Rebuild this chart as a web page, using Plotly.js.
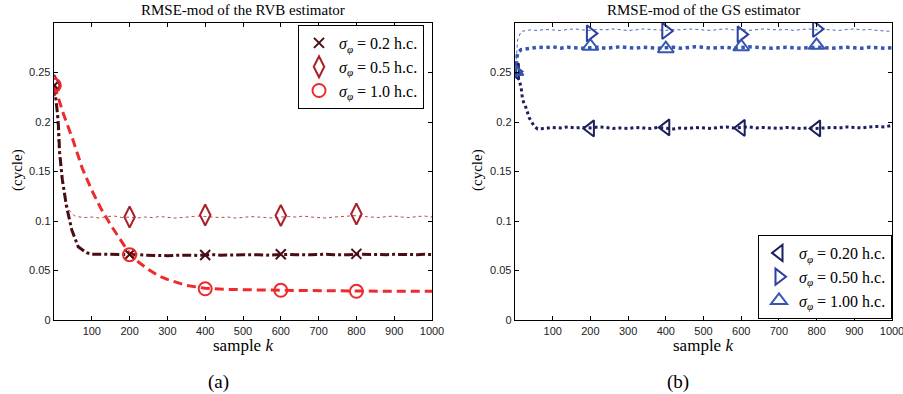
<!DOCTYPE html>
<html>
<head>
<meta charset="utf-8">
<script src="https://cdn.plot.ly/plotly-3.0.1.min.js"></script>
<style>html,body{margin:0;padding:0;background:#fff;}#chart{width:903px;height:394px;}</style>
</head>
<body>
<div id="chart"></div>
<script>
// ---------- Panel (a): RVB estimator ----------
const rvbK_02 = [1,5,11,15,22,33,47,64,86,100,120,140,160,180,200,220,240,260,280,300,320,340,360,380,400,420,440,460,480,500,520,540,560,580,600,620,640,660,680,700,720,740,760,780,800,820,840,860,880,900,920,940,960,980,1000];
const rvbV_02 = [0.237,0.222,0.202,0.169,0.142,0.115,0.091,0.074,0.068,0.0665,0.0665,0.0660,0.0662,0.0658,0.0662,0.0660,0.0655,0.0652,0.0655,0.0650,0.0653,0.0657,0.0655,0.0652,0.0656,0.0660,0.0655,0.0652,0.0656,0.0660,0.0662,0.0658,0.0655,0.0660,0.0665,0.0663,0.0660,0.0656,0.0658,0.0662,0.0665,0.0660,0.0657,0.0660,0.0664,0.0662,0.0658,0.0656,0.0660,0.0663,0.0661,0.0658,0.0660,0.0663,0.0662];

const rvbK_05 = [1,4,7,11,15,20,29,42,55,60,80,100,120,140,160,180,200,220,240,260,280,300,320,340,360,380,400,420,440,460,480,500,520,540,560,580,600,620,640,660,680,700,720,740,760,780,800,820,840,860,880,900,920,940,960,980,1000];
const rvbV_05 = [0.237,0.225,0.209,0.175,0.158,0.142,0.121,0.110,0.105,0.1045,0.1035,0.1040,0.1030,0.1045,0.1050,0.1035,0.1040,0.1030,0.1040,0.1035,0.1045,0.1040,0.1030,0.1035,0.1045,0.1050,0.1045,0.1040,0.1035,0.1040,0.1030,0.1035,0.1045,0.1040,0.1035,0.1030,0.1040,0.1045,0.1040,0.1050,0.1040,0.1035,0.1030,0.1040,0.1045,0.1050,0.1055,0.1045,0.1040,0.1035,0.1045,0.1050,0.1040,0.1035,0.1045,0.1050,0.1040];

const rvbK_10 = [1,25,50,75,100,125,150,175,200,225,250,275,300,350,400,450,500,550,600,650,700,750,800,850,900,950,1000];
const rvbV_10 = [0.237,0.208,0.182,0.153,0.131,0.112,0.096,0.081,0.067,0.058,0.051,0.045,0.041,0.035,0.032,0.031,0.0305,0.0302,0.030,0.0298,0.0295,0.0292,0.029,0.029,0.029,0.029,0.029];

const markK = [1,200,400,600,800];
const rvbM_02 = [0.237,0.0662,0.0656,0.0665,0.0668];
const rvbM_05 = [0.237,0.104,0.106,0.1055,0.107];
const rvbM_10 = [0.237,0.066,0.0315,0.030,0.029];

// ---------- Panel (b): GS estimator ----------
const steadyK = [60,80,100,120,140,160,180,200,220,240,260,280,300,320,340,360,380,400,420,440,460,480,500,520,540,560,580,600,620,640,660,680,700,720,740,760,780,800,820,840,860,880,900,920,940,960,980,1000];

const gsK_020 = [1,8,16,20,29,38,51].concat(steadyK);
const gsV_020 = [0.251,0.245,0.236,0.2227,0.2146,0.204,0.1957,
  0.1930,0.1935,0.1945,0.1940,0.1950,0.1940,0.1945,0.1940,0.1950,0.1945,0.1935,0.1940,0.1935,0.1945,0.1940,0.1935,0.1945,0.1940,0.1930,0.1940,0.1935,0.1945,0.1940,0.1935,0.1945,0.1950,0.1940,0.1945,0.1950,0.1940,0.1945,0.1940,0.1935,0.1945,0.1940,0.1935,0.1940,0.1935,0.1940,0.1945,0.1940,0.1950,0.1945,0.1940,0.1950,0.1955,0.1950,0.1965];

const gsK_050 = [1,7,16,40].concat(steadyK);
const gsV_050 = [0.251,0.283,0.2915,0.2930,
  0.2925,0.2935,0.2930,0.2925,0.2935,0.2940,0.2930,0.2925,0.2935,0.2930,0.2940,0.2935,0.2925,0.2930,0.2940,0.2935,0.2930,0.2925,0.2935,0.2930,0.2940,0.2935,0.2930,0.2925,0.2935,0.2940,0.2930,0.2935,0.2925,0.2930,0.2940,0.2935,0.2930,0.2935,0.2925,0.2935,0.2940,0.2930,0.2935,0.2930,0.2925,0.2935,0.2940,0.2930,0.2935,0.2925,0.2920,0.2915];

const gsK_100 = [1,7,16,40].concat(steadyK);
const gsV_100 = [0.251,0.270,0.273,0.2745,
  0.2755,0.2750,0.2760,0.2745,0.2755,0.2750,0.2745,0.2750,0.2755,0.2745,0.2750,0.2760,0.2750,0.2745,0.2755,0.2750,0.2745,0.2750,0.2755,0.2745,0.2750,0.2760,0.2755,0.2745,0.2750,0.2755,0.2745,0.2750,0.2760,0.2755,0.2750,0.2745,0.2750,0.2755,0.2750,0.2745,0.2750,0.2755,0.2750,0.2745,0.2750,0.2755,0.2750,0.2745,0.2755,0.2750,0.2745,0.2750];

const gsM_020 = [0.251,0.1935,0.1945,0.1940,0.1935];
const gsM_050 = [0.251,0.2895,0.2920,0.2885,0.2940];
const gsM_100 = [0.251,0.2765,0.2740,0.2760,0.2775];

const xTickVals = [100,200,300,400,500,600,700,800,900,1000];
const yTickVals = [0,0.05,0.1,0.15,0.2,0.25];
const yTickText = ['0','0.05','0.1','0.15','0.2','0.25'];

const titleA = 'RMSE-mod of the RVB estimator';
const titleB = 'RMSE-mod of the GS estimator';
const labA = ['0.2','0.5','1.0'];
const labB = ['0.20','0.50','1.00'];

function sig(v){ return '<i>σ</i><sub><i>φ</i></sub> = ' + v + ' h.c.'; }

const SERIF = '"Liberation Serif", "DejaVu Serif", serif';
const SANS = '"Liberation Sans", Arial, sans-serif';

function lineTrace(x, y, xa, ya, color, width, dash){
  return {x:x, y:y, xaxis:xa, yaxis:ya, mode:'lines', showlegend:false, hoverinfo:'skip',
          line:{color:color, width:width, dash:dash}};
}
function markTrace(x, y, xa, ya, color, symbol, size, name, legend){
  return {x:x, y:y, xaxis:xa, yaxis:ya, mode:'markers', name:name, legend:legend,
          marker:{symbol:symbol, size:size, color:color, line:{color:color, width:2}}};
}

const cA02 = '#4a0d13', cA05 = '#a8202a', cA05l = '#c0484c', cA10 = '#ee2a2c';
const cB020 = '#1b1f5e', cB050 = '#2c3f9f', cB050l = '#4a66bf', cB100 = '#3556b3';

const data = [
  lineTrace(rvbK_05, rvbV_05, 'x', 'y', cA05l, 1, 'dot'),
  lineTrace(rvbK_02, rvbV_02, 'x', 'y', cA02, 3, 'dashdot'),
  lineTrace(rvbK_10, rvbV_10, 'x', 'y', cA10, 3, '9px,5px'),
  markTrace(markK, rvbM_02, 'x', 'y', cA02, 'x-thin-open', 10, sig(labA[0]), 'legend'),
  markTrace(markK, rvbM_05, 'x', 'y', cA05, 'diamond-tall-open', 15, sig(labA[1]), 'legend'),
  markTrace(markK, rvbM_10, 'x', 'y', cA10, 'circle-open', 13, sig(labA[2]), 'legend'),

  lineTrace(gsK_050, gsV_050, 'x2', 'y2', cB050l, 1, 'dot'),
  lineTrace(gsK_100, gsV_100, 'x2', 'y2', cB100, 3.5, 'dot'),
  lineTrace(gsK_020, gsV_020, 'x2', 'y2', cB020, 3, 'dot'),
  markTrace(markK, gsM_020, 'x2', 'y2', cB020, 'triangle-left-open', 14, sig(labB[0]), 'legend2'),
  markTrace(markK, gsM_050, 'x2', 'y2', cB050, 'triangle-right-open', 14, sig(labB[1]), 'legend2'),
  markTrace(markK, gsM_100, 'x2', 'y2', cB100, 'triangle-up-open', 14, sig(labB[2]), 'legend2')
];

function xAxis(domain, anchor){
  return {domain:domain, anchor:anchor, range:[0,1000], tickvals:xTickVals, ticks:'inside', ticklen:4,
          tickcolor:'#000', showline:true, linecolor:'#000', linewidth:1.3, mirror:'ticks',
          ticklabeloverflow:'allow',
          showgrid:false, zeroline:false, tickfont:{family:SANS, size:11, color:'#222'}};
}
function yAxis(domain, anchor){
  return {domain:domain, anchor:anchor, range:[0,0.3], tickvals:yTickVals, ticktext:yTickText, ticks:'inside', ticklen:4,
          tickcolor:'#000', showline:true, linecolor:'#000', linewidth:1.3, mirror:'ticks',
          showgrid:false, zeroline:false, tickfont:{family:SANS, size:11, color:'#222'}};
}

const yDom = [(394-320)/394, (394-23)/394];
const legendCommon = {bgcolor:'#fff', bordercolor:'#000', borderwidth:1, font:{family:SERIF, size:16, color:'#000'},
  tracegroupgap:0, itemwidth:30};

function ann(text, x, y, size, angle){
  return {text:text, x:x, y:y, xref:'paper', yref:'paper', showarrow:false, xanchor:'center', yanchor:'middle',
          textangle:angle||0, font:{family:SERIF, size:size, color:'#000'}};
}

const layout = {
  width:903, height:394, autosize:false,
  margin:{l:0, r:0, t:0, b:0},
  paper_bgcolor:'#fff', plot_bgcolor:'#fff',
  xaxis: xAxis([54/903, 432/903], 'y'),
  yaxis: yAxis(yDom, 'x'),
  xaxis2: xAxis([515/903, 892/903], 'y2'),
  yaxis2: yAxis(yDom, 'x2'),
  legend: Object.assign({x:298/903, y:(394-25)/394, xanchor:'left', yanchor:'top'}, legendCommon),
  legend2: Object.assign({x:892/903, y:(394-319)/394, xanchor:'right', yanchor:'bottom'}, legendCommon),
  annotations:[
    ann(titleA, 243/903, (394-10)/394, 15),
    ann(titleB, 703/903, (394-10)/394, 15),
    ann('sample <i>k</i>', 243/903, (394-345)/394, 17),
    ann('sample <i>k</i>', 703/903, (394-345)/394, 17),
    ann('(cycle)', 18/903, (394-170)/394, 15, -90),
    ann('(cycle)', 478/903, (394-170)/394, 15, -90),
    ann('(a)', 218/903, (394-382)/394, 19),
    ann('(b)', 678/903, (394-382)/394, 19)
  ]
};

Plotly.newPlot('chart', data, layout, {staticPlot:true, displayModeBar:false});
</script>
</body>
</html>
